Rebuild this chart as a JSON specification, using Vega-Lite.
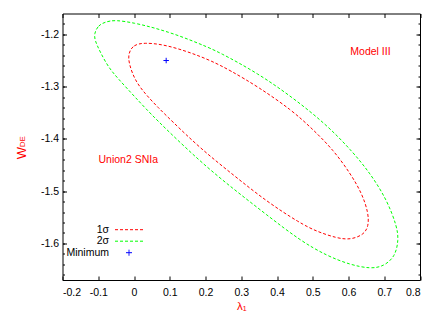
{
  "$schema": "https://vega.github.io/schema/vega-lite/v6.json",
  "width": 357.5,
  "height": 266.5,
  "autosize": {"type": "none"},
  "padding": {"left": 62.5, "top": 13.5, "right": 16, "bottom": 47},
  "background": "white",
  "config": {
    "view": {"stroke": "black", "strokeWidth": 1},
    "font": "Liberation Sans",
    "axis": {"grid": false, "domain": false, "tickColor": "black", "tickWidth": 1, "labelFont": "Liberation Sans", "labelFontSize": 10.5, "labelColor": "black", "titleFont": "Liberation Sans", "titleFontWeight": "normal", "titleColor": "#ff0000"}
  },
  "datasets": {
    "contours": [
      {"series": "1σ", "i": 1, "lambda1": -0.0162, "wde": -1.2368},
      {"series": "1σ", "i": 2, "lambda1": -0.0022, "wde": -1.2197},
      {"series": "1σ", "i": 3, "lambda1": 0.0305, "wde": -1.2158},
      {"series": "1σ", "i": 4, "lambda1": 0.0773, "wde": -1.2191},
      {"series": "1σ", "i": 5, "lambda1": 0.1238, "wde": -1.2273},
      {"series": "1σ", "i": 6, "lambda1": 0.1706, "wde": -1.2382},
      {"series": "1σ", "i": 7, "lambda1": 0.2174, "wde": -1.251},
      {"series": "1σ", "i": 8, "lambda1": 0.2686, "wde": -1.2687},
      {"series": "1σ", "i": 9, "lambda1": 0.3479, "wde": -1.3006},
      {"series": "1σ", "i": 10, "lambda1": 0.4415, "wde": -1.345},
      {"series": "1σ", "i": 11, "lambda1": 0.4997, "wde": -1.3813},
      {"series": "1σ", "i": 12, "lambda1": 0.558, "wde": -1.4214},
      {"series": "1σ", "i": 13, "lambda1": 0.6048, "wde": -1.4658},
      {"series": "1σ", "i": 14, "lambda1": 0.6375, "wde": -1.504},
      {"series": "1σ", "i": 15, "lambda1": 0.656, "wde": -1.5422},
      {"series": "1σ", "i": 16, "lambda1": 0.656, "wde": -1.5677},
      {"series": "1σ", "i": 17, "lambda1": 0.642, "wde": -1.5836},
      {"series": "1σ", "i": 18, "lambda1": 0.6048, "wde": -1.5931},
      {"series": "1σ", "i": 19, "lambda1": 0.5675, "wde": -1.5899},
      {"series": "1σ", "i": 20, "lambda1": 0.5115, "wde": -1.5773},
      {"series": "1σ", "i": 21, "lambda1": 0.4647, "wde": -1.5613},
      {"series": "1σ", "i": 22, "lambda1": 0.3714, "wde": -1.52},
      {"series": "1σ", "i": 23, "lambda1": 0.2779, "wde": -1.4691},
      {"series": "1σ", "i": 24, "lambda1": 0.1846, "wde": -1.4176},
      {"series": "1σ", "i": 25, "lambda1": 0.1034, "wde": -1.3641},
      {"series": "1σ", "i": 26, "lambda1": 0.0678, "wde": -1.3403},
      {"series": "1σ", "i": 27, "lambda1": 0.0305, "wde": -1.3132},
      {"series": "1σ", "i": 28, "lambda1": 0.0025, "wde": -1.2878},
      {"series": "1σ", "i": 29, "lambda1": -0.0143, "wde": -1.2559},
      {"series": "2σ", "i": 1, "lambda1": -0.1115, "wde": -1.1987},
      {"series": "2σ", "i": 2, "lambda1": -0.1003, "wde": -1.1828},
      {"series": "2σ", "i": 3, "lambda1": -0.0815, "wde": -1.1765},
      {"series": "2σ", "i": 4, "lambda1": -0.0535, "wde": -1.1719},
      {"series": "2σ", "i": 5, "lambda1": 0.0025, "wde": -1.1784},
      {"series": "2σ", "i": 6, "lambda1": 0.0493, "wde": -1.1861},
      {"series": "2σ", "i": 7, "lambda1": 0.0958, "wde": -1.1956},
      {"series": "2σ", "i": 8, "lambda1": 0.1426, "wde": -1.2067},
      {"series": "2σ", "i": 9, "lambda1": 0.1894, "wde": -1.2197},
      {"series": "2σ", "i": 10, "lambda1": 0.2359, "wde": -1.233},
      {"series": "2σ", "i": 12, "lambda1": 0.3479, "wde": -1.275},
      {"series": "2σ", "i": 13, "lambda1": 0.4415, "wde": -1.3197},
      {"series": "2σ", "i": 14, "lambda1": 0.5347, "wde": -1.3704},
      {"series": "2σ", "i": 15, "lambda1": 0.6076, "wde": -1.4214},
      {"series": "2σ", "i": 16, "lambda1": 0.6608, "wde": -1.4658},
      {"series": "2σ", "i": 17, "lambda1": 0.7076, "wde": -1.5168},
      {"series": "2σ", "i": 18, "lambda1": 0.7356, "wde": -1.5677},
      {"series": "2σ", "i": 19, "lambda1": 0.7401, "wde": -1.5931},
      {"series": "2σ", "i": 20, "lambda1": 0.7308, "wde": -1.625},
      {"series": "2σ", "i": 21, "lambda1": 0.698, "wde": -1.6441},
      {"series": "2σ", "i": 22, "lambda1": 0.6608, "wde": -1.6485},
      {"series": "2σ", "i": 23, "lambda1": 0.6048, "wde": -1.6408},
      {"series": "2σ", "i": 24, "lambda1": 0.5395, "wde": -1.6237},
      {"series": "2σ", "i": 25, "lambda1": 0.4647, "wde": -1.5945},
      {"series": "2σ", "i": 26, "lambda1": 0.3714, "wde": -1.5454},
      {"series": "2σ", "i": 27, "lambda1": 0.2779, "wde": -1.4958},
      {"series": "2σ", "i": 28, "lambda1": 0.1846, "wde": -1.4433},
      {"series": "2σ", "i": 30, "lambda1": 0.0585, "wde": -1.3609},
      {"series": "2σ", "i": 31, "lambda1": 0.0025, "wde": -1.3197},
      {"series": "2σ", "i": 32, "lambda1": -0.0443, "wde": -1.2849},
      {"series": "2σ", "i": 33, "lambda1": -0.0723, "wde": -1.2624},
      {"series": "2σ", "i": 34, "lambda1": -0.0955, "wde": -1.2324},
      {"series": "2σ", "i": 35, "lambda1": -0.1095, "wde": -1.2115},
      {"series": "Minimum", "i": 1, "lambda1": 0.09, "wde": -1.25}
    ]
  },
  "resolve": {"axis": {"x": "independent", "y": "independent"}},
  "layer": [
    {
      "data": {"name": "contours"},
      "transform": [{"filter": "datum.series === '2σ'"}],
      "mark": {"type": "line", "interpolate": "basis-closed", "strokeWidth": 1, "strokeDash": [3, 2]},
      "encoding": {
        "x": {"field": "lambda1", "type": "quantitative", "scale": {"domain": [-0.2, 0.8], "nice": false, "zero": false},
          "axis": {"orient": "bottom", "values": [-0.2, -0.1, 0, 0.1, 0.2, 0.3, 0.4, 0.5, 0.6, 0.7, 0.8], "ticks": false, "labelPadding": 7, "labelExpr": "replace(format(datum.value, '.1~f'), '−', '-')", "title": "λ₁", "titleFontSize": 11.5, "titlePadding": 3}},
        "y": {"field": "wde", "type": "quantitative", "scale": {"domain": [-1.67, -1.16], "nice": false, "zero": false},
          "axis": {"orient": "left", "values": [-1.6, -1.5, -1.4, -1.3, -1.2], "ticks": false, "labelPadding": 4, "labelExpr": "replace(format(datum.value, '.1f'), '−', '-')", "title": "W", "titleFontSize": 13, "titleAngle": 270, "titleBaseline": "alphabetic", "titleAlign": "center", "titleX": -37.5, "titleY": 139}},
        "color": {"field": "series", "type": "nominal",
          "scale": {"domain": ["1σ", "2σ", "Minimum"], "range": ["#ff0000", "#00ff00", "#0000ff"]},
          "legend": {
            "title": null, "orient": "none", "legendX": 61, "legendY": 210.7, "direction": "vertical",
            "symbolType": "stroke", "symbolSize": 100, "symbolStrokeWidth": 1, "symbolDash": [3, 2], "symbolOpacity": 1,
            "labelAlign": "right", "labelOffset": -25.5, "labelFontSize": 10.5, "labelFont": "Liberation Sans", "labelColor": "black",
            "rowPadding": 0.5, "padding": 0, "offset": 0,
            "encode": {"symbols": {"update": {
              "shape": {"signal": "datum.value === 'Minimum' ? 'M-0.6,0L0.6,0M0,-0.6L0,0.6' : 'M-2.8,0L2.8,0'"},
              "strokeDash": {"signal": "datum.value === 'Minimum' ? [1, 0] : [3, 2]"}
            }}}
          }},
        "order": {"field": "i", "type": "quantitative"}
      }
    },
    {
      "data": {"name": "contours"},
      "transform": [{"filter": "datum.series === '1σ'"}],
      "mark": {"type": "line", "interpolate": "basis-closed", "strokeWidth": 1, "strokeDash": [3, 2]},
      "encoding": {
        "x": {"field": "lambda1", "type": "quantitative",
          "axis": {"orient": "bottom", "values": [-0.2, -0.1, 0, 0.1, 0.2, 0.3, 0.4, 0.5, 0.6, 0.7, 0.8], "labels": false, "tickSize": -4, "title": null}},
        "y": {"field": "wde", "type": "quantitative",
          "axis": {"orient": "left", "values": [-1.6, -1.5, -1.4, -1.3, -1.2], "labels": false, "tickSize": -4, "title": null}},
        "color": {"field": "series", "type": "nominal"},
        "order": {"field": "i", "type": "quantitative"}
      }
    },
    {
      "data": {"name": "contours"},
      "transform": [{"filter": "datum.series === 'Minimum'"}],
      "mark": {"type": "point", "shape": "M-1,0L1,0M0,-1L0,1", "filled": false, "size": 30, "strokeWidth": 1, "opacity": 1},
      "encoding": {
        "x": {"field": "lambda1", "type": "quantitative",
          "axis": {"orient": "top", "values": [-0.2, -0.1, 0, 0.1, 0.2, 0.3, 0.4, 0.5, 0.6, 0.7, 0.8], "labels": false, "tickSize": -4, "title": null}},
        "y": {"field": "wde", "type": "quantitative",
          "axis": {"orient": "right", "values": [-1.6, -1.5, -1.4, -1.3, -1.2], "labels": false, "tickSize": -4, "title": null}},
        "color": {"field": "series", "type": "nominal"}
      }
    },
    {
      "data": {"values": [{"note": "Model III"}]},
      "mark": {"type": "text", "color": "#ff0000", "fontSize": 10.5, "font": "Liberation Sans", "align": "center", "baseline": "middle"},
      "encoding": {
        "text": {"field": "note"},
        "x": {"datum": 0.6615, "type": "quantitative", "axis": null},
        "y": {"datum": -1.2344, "type": "quantitative",
          "axis": {"orient": "left", "values": [-1.66, -1.64, -1.62, -1.6, -1.58, -1.56, -1.54, -1.52, -1.5, -1.48, -1.46, -1.44, -1.42, -1.4, -1.38, -1.36, -1.34, -1.32, -1.3, -1.28, -1.26, -1.24, -1.22, -1.2, -1.18], "labels": false, "tickSize": -2, "title": "DE", "titleFontSize": 8, "titleAngle": 270, "titleBaseline": "alphabetic", "titleAlign": "center", "titleX": -38, "titleY": 127.8}}
      }
    },
    {
      "data": {"values": [{"note": "Union2 SNIa"}]},
      "mark": {"type": "text", "color": "#ff0000", "fontSize": 10.5, "font": "Liberation Sans", "align": "center", "baseline": "middle"},
      "encoding": {
        "text": {"field": "note"},
        "x": {"datum": -0.016, "type": "quantitative", "axis": null},
        "y": {"datum": -1.4405, "type": "quantitative",
          "axis": {"orient": "right", "values": [-1.66, -1.64, -1.62, -1.6, -1.58, -1.56, -1.54, -1.52, -1.5, -1.48, -1.46, -1.44, -1.42, -1.4, -1.38, -1.36, -1.34, -1.32, -1.3, -1.28, -1.26, -1.24, -1.22, -1.2, -1.18], "labels": false, "tickSize": -2, "title": null}}
      }
    }
  ]
}
